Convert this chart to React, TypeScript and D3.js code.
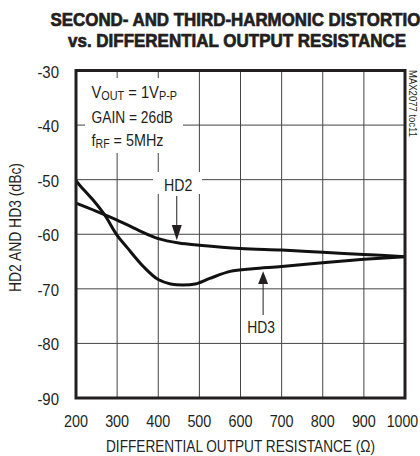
import React from "react";
import * as d3 from "d3";

const xTicks = [200, 300, 400, 500, 600, 700, 800, 900, 1000];
const yTicks = [-30, -40, -50, -60, -70, -80, -90];

const hd2R = [200, 250, 300, 350, 400, 450, 500, 600, 700, 800, 900, 1000];
const hd2V = [-54.3, -55.8, -57.4, -59.2, -60.8, -61.6, -62.0, -62.6, -62.9, -63.3, -63.7, -64.1];

const hd3R = [200, 210, 240, 270, 300, 325, 365, 400, 430, 460, 490, 525, 575, 630, 700, 800, 900, 1000];
const hd3V = [-50.2, -51.1, -53.6, -56.5, -60.2, -62.5, -66.0, -68.3, -69.1, -69.3, -69.1, -68.1, -66.8, -66.3, -65.9, -65.2, -64.6, -64.1];

const FONT = "'Liberation Sans', Arial, sans-serif";
const INK = "#231f20";

export default function App() {
  const L = 76, R = 405, T = 70.5, B = 398;
  const x = d3.scaleLinear().domain([200, 1000]).range([L, R]);
  const y = d3.scaleLinear().domain([-90, -30]).range([B, T]);
  const line = d3
    .line<[number, number]>()
    .x((d) => x(d[0]))
    .y((d) => y(d[1]))
    .curve(d3.curveCatmullRom.alpha(0.5));
  const hd2 = hd2R.map((r, i) => [r, hd2V[i]] as [number, number]);
  const hd3 = hd3R.map((r, i) => [r, hd3V[i]] as [number, number]);

  const hd2ArrowX = x(445);
  const hd3ArrowX = x(655);
  const adj = "spacingAndGlyphs";

  return (
    <svg
      width={420}
      height={456}
      style={{ position: "absolute", left: 0, top: 0, background: "#fff" }}
      fontFamily={FONT}
    >
      <rect x={0} y={0} width={420} height={456} fill="#fff" />
      {/* title */}
      <text x={50.5} y={25.5} fontSize={19} fontWeight="bold" fill={INK} stroke={INK} strokeWidth={0.7}
        textLength={382} lengthAdjust={adj}>
        SECOND- AND THIRD-HARMONIC DISTORTION
      </text>
      <text x={68} y={46.5} fontSize={19} fontWeight="bold" fill={INK} stroke={INK} strokeWidth={0.7}
        textLength={338} lengthAdjust={adj}>
        vs. DIFFERENTIAL OUTPUT RESISTANCE
      </text>

      {/* grid */}
      {xTicks.slice(1, -1).map((t) => (
        <line key={"gx" + t} x1={x(t)} x2={x(t)} y1={T} y2={B} stroke="#444" strokeWidth={1} />
      ))}
      {yTicks.slice(1, -1).map((t) => (
        <line key={"gy" + t} x1={L} x2={R} y1={y(t)} y2={y(t)} stroke="#444" strokeWidth={1} />
      ))}

      {/* label backgrounds */}
      <rect x={85} y={78} width={98} height={75} fill="#fff" />
      <rect x={153} y={172} width={49} height={22} fill="#fff" />
      <rect x={246} y={316} width={30} height={22} fill="#fff" />

      {/* curves */}
      <path d={line(hd2) || ""} fill="none" stroke="#111" strokeWidth={3} />
      <path d={line(hd3) || ""} fill="none" stroke="#111" strokeWidth={3} />

      {/* frame */}
      <rect x={L} y={T} width={R - L} height={B - T} fill="none" stroke={INK} strokeWidth={3} />

      {/* annotation text block */}
      <g fontSize={17} fill={INK}>
        <text x={91.5} y={98} textLength={85.5} lengthAdjust={adj}>
          V<tspan fontSize={12.5} dy={2}>OUT</tspan>
          <tspan dy={-2}> = 1V</tspan>
          <tspan fontSize={12.5} dy={2}>P-P</tspan>
        </text>
        <text x={91.5} y={123} textLength={81.5} lengthAdjust={adj}>GAIN = 26dB</text>
        <text x={91.5} y={146} textLength={72} lengthAdjust={adj}>
          f<tspan fontSize={12.5} dy={2}>RF</tspan>
          <tspan dy={-2}> = 5MHz</tspan>
        </text>
      </g>

      {/* HD2 arrow */}
      <text x={164} y={191} fontSize={17} fill={INK} textLength={28.3} lengthAdjust={adj}>HD2</text>
      <line x1={hd2ArrowX} x2={hd2ArrowX} y1={196} y2={228} stroke={INK} strokeWidth={1} />
      <path
        d={`M${hd2ArrowX - 5},${225} L${hd2ArrowX + 5},${225} L${hd2ArrowX},${y(-61.3) - 1} Z`}
        fill={INK}
      />

      {/* HD3 arrow */}
      <text x={247.3} y={333} fontSize={17} fill={INK} textLength={27.7} lengthAdjust={adj}>HD3</text>
      <line x1={hd3ArrowX} x2={hd3ArrowX} y1={280} y2={315} stroke={INK} strokeWidth={1} />
      <path
        d={`M${hd3ArrowX - 5},${284} L${hd3ArrowX + 5},${284} L${hd3ArrowX},${y(-66.5) + 1.5} Z`}
        fill={INK}
      />

      {/* y ticks */}
      {yTicks.map((t) => (
        <text key={"yt" + t} x={59 - 21.6} y={y(t) + 7} fontSize={16.5} fill={INK}
          textLength={21.6} lengthAdjust={adj}>
          {t}
        </text>
      ))}
      {/* x ticks */}
      {xTicks.map((t) => {
        const four = String(t).length === 4;
        const w = four ? 31.5 : 24;
        const cx = four ? x(t) - 2.5 : x(t);
        return (
          <text key={"xt" + t} x={cx - w / 2} y={426.5} fontSize={16.5} fill={INK}
            textLength={w} lengthAdjust={adj}>
            {t}
          </text>
        );
      })}

      {/* axis titles */}
      <text x={106} y={451.5} fontSize={16.5} fill={INK} textLength={269} lengthAdjust={adj}>
        DIFFERENTIAL OUTPUT RESISTANCE (Ω)
      </text>
      <text
        transform="translate(21,292) rotate(-90)"
        fontSize={16.5}
        fill={INK}
        textLength={129}
        lengthAdjust={adj}
      >
        HD2 AND HD3 (dBc)
      </text>

      {/* side id */}
      <text transform="translate(408.5,70) rotate(90)" fontSize={10} fill={INK}
        textLength={67} lengthAdjust={adj}>
        MAX2077 toc11
      </text>
    </svg>
  );
}
